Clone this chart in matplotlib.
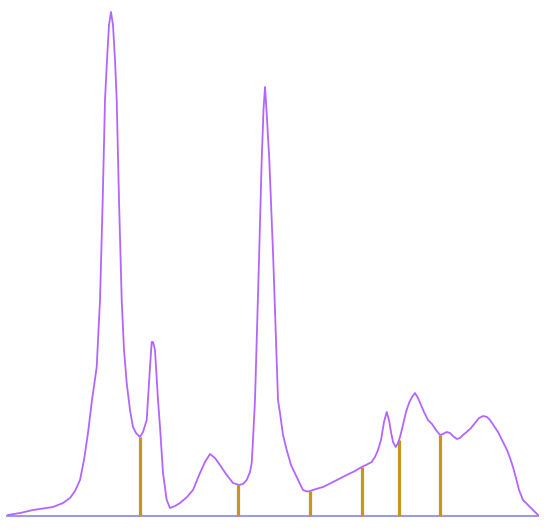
import matplotlib
matplotlib.use("Agg")
import matplotlib.pyplot as plt
import numpy as np

# retention time (min) and detector signal (mAU)
time = [0.0, 0.6, 1.25, 2.25, 2.75, 3.1, 3.35, 3.6, 3.8, 4.0, 4.2, 4.435, 4.6, 4.735, 4.85, 4.95,
        5.05, 5.15, 5.25, 5.35, 5.435, 5.55, 5.685, 5.8, 5.935, 6.1, 6.25, 6.4, 6.6, 6.75, 6.935,
        7.1, 7.185, 7.25, 7.35, 7.5, 7.6, 7.75, 7.935, 8.1, 8.35, 8.6, 8.95, 9.25, 9.6, 9.85, 10.1,
        10.35, 10.6, 10.9, 11.25, 11.55, 11.75, 11.935, 12.1, 12.185, 12.25, 12.35, 12.45, 12.55,
        12.685, 12.775, 12.85, 12.925, 13.065, 13.265, 13.4, 13.5, 13.6, 13.75, 13.935, 14.15,
        14.435, 14.6, 14.75, 14.95, 15.1, 15.4, 15.75, 16.35, 16.935, 17.35, 17.685, 17.9, 18.185,
        18.35, 18.5, 18.65, 18.8, 18.935, 19.05, 19.15, 19.25, 19.385, 19.5, 19.6, 19.75, 19.9,
        20.05, 20.2, 20.35, 20.5, 20.65, 20.8, 21.0, 21.2, 21.4, 21.6, 21.75, 21.935, 22.1, 22.25,
        22.435, 22.6, 22.75, 22.935, 23.15, 23.35, 23.55, 23.765, 23.95, 24.1, 24.265, 24.5,
        24.75, 24.95, 25.1, 25.25, 25.4, 25.55, 25.75, 26.0, 26.25, 26.5]
signal = [1, 3, 6, 9, 13, 18, 25, 36, 56, 83, 116, 149, 216, 316, 416, 456,
          491, 504, 491, 456, 416, 316, 216, 166, 133, 106, 89, 83, 79, 84, 96,
          149, 174, 174, 166, 116, 89, 43, 16, 8, 10, 13, 19, 26, 43, 54, 62,
          58, 51, 42, 33, 31, 32, 36, 44, 53, 76, 116, 186, 256,
          356, 406, 429, 406, 356, 256, 176, 116, 103, 81, 66, 51,
          39, 32, 26, 24.5, 25, 27, 29, 35, 41, 45, 49, 51, 54,
          59, 66, 76, 94, 104, 96, 84, 74, 69, 73, 79, 91, 104,
          113, 119, 123, 118, 111, 104, 96, 92, 86, 81, 82, 84, 83, 80,
          77, 78, 81, 84, 88, 93, 98, 100, 99, 96, 91, 84,
          74, 66, 58, 49, 38, 26, 16, 11, 6, 1]

# integration boundaries (min)
boundaries = [6.6, 11.5, 15.1, 17.7, 19.55, 21.6]

fig = plt.figure(figsize=(5.5, 5.31), dpi=100)
ax = fig.add_axes([0, 0, 1, 1])
ax.set_xlim(-0.4, 27.1)
ax.set_ylim(-15, 516)
ax.axis("off")

# baseline
ax.plot([time[0] - 0.05, time[-1]], [0, 0], color="#9c9ce2", lw=1.5, zorder=1)

# boundary drop lines
bh = np.interp(boundaries, time, signal)
ax.vlines(boundaries, 0, bh, color="#c8961e", lw=2.3, zorder=2)

# chromatogram trace
ax.plot(time, signal, color="#b266ff", lw=1.3, zorder=3)

fig.savefig("out.png", dpi=100, facecolor="white")
